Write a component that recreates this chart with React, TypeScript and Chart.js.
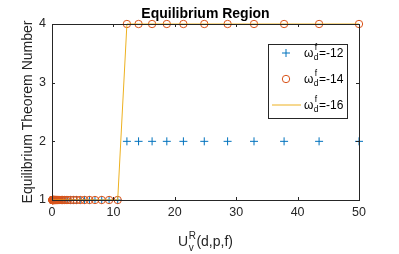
import React, { useEffect, useRef } from "react";
import { Chart, registerables } from "chart.js";

Chart.register(...registerables);

const X_VALUES = [
  0.05, 0.06, 0.07, 0.08, 0.09, 0.1, 0.12, 0.14, 0.16, 0.19,
  0.21, 0.25, 0.28, 0.33, 0.37, 0.43, 0.5, 0.57, 0.65, 0.75,
  0.87, 1.0, 1.15, 1.3, 1.5, 1.7, 2.0, 2.3, 2.6, 3.0,
  3.5, 4.0, 4.6, 5.3, 6.1, 7.0, 8.1, 9.3, 10.7,
  12.2, 14.1, 16.3, 18.7, 21.4, 24.8, 28.6, 32.9, 37.8, 43.5, 50,
];
const SERIES_W12 = [
  1, 1, 1, 1, 1, 1, 1, 1, 1, 1,
  1, 1, 1, 1, 1, 1, 1, 1, 1, 1,
  1, 1, 1, 1, 1, 1, 1, 1, 1, 1,
  1, 1, 1, 1, 1, 1, 1, 1, 1,
  2, 2, 2, 2, 2, 2, 2, 2, 2, 2, 2,
];
const SERIES_W14 = [
  1, 1, 1, 1, 1, 1, 1, 1, 1, 1,
  1, 1, 1, 1, 1, 1, 1, 1, 1, 1,
  1, 1, 1, 1, 1, 1, 1, 1, 1, 1,
  1, 1, 1, 1, 1, 1, 1, 1, 1,
  4, 4, 4, 4, 4, 4, 4, 4, 4, 4, 4,
];
const SERIES_W16 = [
  1, 1, 1, 1, 1, 1, 1, 1, 1, 1,
  1, 1, 1, 1, 1, 1, 1, 1, 1, 1,
  1, 1, 1, 1, 1, 1, 1, 1, 1, 1,
  1, 1, 1, 1, 1, 1, 1, 1, 1,
  4, 4, 4, 4, 4, 4, 4, 4, 4, 4, 4,
];
const LEGEND_VALUES = ["-12", "-14", "-16"];
const X_TICKS = [0, 10, 20, 30, 40, 50];
const Y_TICKS = [1, 2, 3, 4];
const TITLE = "Equilibrium Region";
const Y_TITLE = "Equilibrium Theorem Number";

const BLUE = "#0072BD";
const ORANGE = "#D95319";
const YELLOW = "#EDB120";
const AXIS = "#262626";
const FONT = "'Liberation Sans', Arial, Helvetica, sans-serif";

const toPts = (ys: number[]) => X_VALUES.map((x, i) => ({ x, y: ys[i] }));

const decorPlugin = {
  id: "decor",
  afterDatasetsDraw(chart: any) {
    const ctx = chart.ctx as CanvasRenderingContext2D;
    const { left, right, top, bottom } = chart.chartArea;
    const xs = chart.scales.x;
    const ys = chart.scales.y;
    ctx.save();
    // box
    ctx.strokeStyle = AXIS;
    ctx.lineWidth = 1;
    ctx.strokeRect(Math.round(left) + 0.5, Math.round(top) + 0.5, Math.round(right - left), Math.round(bottom - top));
    // ticks
    const tl = 3;
    ctx.beginPath();
    X_TICKS.forEach((t) => {
      const px = Math.round(xs.getPixelForValue(t)) + 0.5;
      ctx.moveTo(px, bottom);
      ctx.lineTo(px, bottom - tl);
      ctx.moveTo(px, top);
      ctx.lineTo(px, top + tl);
    });
    Y_TICKS.forEach((t) => {
      const py = Math.round(ys.getPixelForValue(t)) + 0.5;
      ctx.moveTo(left, py);
      ctx.lineTo(left + tl, py);
      ctx.moveTo(right, py);
      ctx.lineTo(right - tl, py);
    });
    ctx.stroke();

    // title
    const cx = (left + right) / 2;
    ctx.fillStyle = "#000";
    ctx.font = `bold 14px ${FONT}`;
    ctx.textAlign = "center";
    ctx.textBaseline = "alphabetic";
    ctx.fillText(TITLE, cx, 18);

    // y title
    ctx.save();
    ctx.fillStyle = AXIS;
    ctx.font = `14px ${FONT}`;
    ctx.translate(32, (top + bottom) / 2);
    ctx.rotate(-Math.PI / 2);
    ctx.fillText(Y_TITLE, 0, 0);
    ctx.restore();

    // x title: U_v^R(d,p,f)
    ctx.fillStyle = AXIS;
    ctx.textAlign = "left";
    const mainF = `14px ${FONT}`;
    const smallF = `10px ${FONT}`;
    ctx.font = mainF;
    const wU = ctx.measureText("U").width;
    const wRest = ctx.measureText("(d,p,f)").width;
    ctx.font = smallF;
    const wSub = Math.max(ctx.measureText("R").width, ctx.measureText("v").width);
    const total = wU + wSub + 1 + wRest;
    const x0 = cx - total / 2;
    const base = 246;
    ctx.font = mainF;
    ctx.fillText("U", x0, base);
    ctx.font = smallF;
    ctx.fillText("R", x0 + wU + 0.5, base - 7);
    ctx.fillText("v", x0 + wU + 0.5, base + 5);
    ctx.font = mainF;
    ctx.fillText("(d,p,f)", x0 + wU + wSub + 1, base);

    // legend
    const lx = 268, ly = 44, lw = 79, lh = 74;
    ctx.fillStyle = "#fff";
    ctx.fillRect(lx, ly, lw, lh);
    ctx.strokeStyle = AXIS;
    ctx.lineWidth = 1;
    ctx.strokeRect(lx + 0.5, ly + 0.5, lw, lh);
    LEGEND_VALUES.forEach((v, i) => {
      const yc = 53 + 26 * i;
      ctx.lineWidth = 1;
      if (i === 0) {
        ctx.strokeStyle = BLUE;
        ctx.beginPath();
        ctx.moveTo(282, yc);
        ctx.lineTo(290, yc);
        ctx.moveTo(286, yc - 4);
        ctx.lineTo(286, yc + 4);
        ctx.stroke();
      } else if (i === 1) {
        ctx.strokeStyle = ORANGE;
        ctx.beginPath();
        ctx.arc(286, yc, 3.7, 0, Math.PI * 2);
        ctx.stroke();
      } else {
        ctx.strokeStyle = YELLOW;
        ctx.beginPath();
        ctx.moveTo(272, yc);
        ctx.lineTo(301, yc);
        ctx.stroke();
      }
      ctx.fillStyle = "#000";
      ctx.textAlign = "left";
      const tb = yc + 4;
      let tx = 304;
      ctx.font = `12px ${FONT}`;
      ctx.fillText("ω", tx, tb);
      tx += ctx.measureText("ω").width + 0.5;
      ctx.font = `8.5px ${FONT}`;
      ctx.fillText("f", tx + 1, tb - 7);
      ctx.fillText("d", tx, tb + 3);
      tx += ctx.measureText("d").width + 0.5;
      ctx.font = `12px ${FONT}`;
      ctx.fillText("=" + v, tx, tb);
    });
    ctx.restore();
  },
};

export default function App() {
  const ref = useRef<HTMLCanvasElement | null>(null);
  useEffect(() => {
    if (!ref.current) return;
    const chart = new Chart(ref.current, {
      type: "scatter",
      data: {
        datasets: [
          {
            label: "w-12",
            data: toPts(SERIES_W12),
            pointStyle: "cross",
            pointRadius: 4,
            pointBorderWidth: 1,
            borderColor: BLUE,
            backgroundColor: BLUE,
            showLine: false,
            clip: false as any,
            order: 2,
          },
          {
            label: "w-14",
            data: toPts(SERIES_W14),
            pointStyle: "circle",
            pointRadius: 3.7,
            pointBorderWidth: 1,
            borderColor: ORANGE,
            backgroundColor: "rgba(0,0,0,0)",
            showLine: false,
            clip: false as any,
            order: 1,
          },
          {
            label: "w-16",
            data: toPts(SERIES_W16),
            pointRadius: 0,
            borderColor: YELLOW,
            borderWidth: 1,
            showLine: true,
            clip: false as any,
            order: 0,
          },
        ],
      },
      options: {
        responsive: false,
        animation: false,
        devicePixelRatio: 1,
        layout: { padding: { left: 0, right: 40, top: 24, bottom: 0 } },
        plugins: {
          legend: { display: false },
          title: { display: false },
          tooltip: { enabled: false },
        },
        scales: {
          x: {
            type: "linear",
            min: 0,
            max: 50,
            afterFit: (s: any) => { s.height = 54; },
            afterBuildTicks: (s: any) => { s.ticks = X_TICKS.map((v) => ({ value: v })); },
            grid: { display: false, drawTicks: false },
            border: { display: false },
            ticks: { color: AXIS, font: { family: FONT, size: 12.5 }, padding: 5, maxRotation: 0 },
          },
          y: {
            type: "linear",
            min: 1,
            max: 4,
            afterFit: (s: any) => { s.width = 52; },
            afterBuildTicks: (s: any) => { s.ticks = Y_TICKS.map((v) => ({ value: v })); },
            grid: { display: false, drawTicks: false },
            border: { display: false },
            ticks: { color: AXIS, font: { family: FONT, size: 12.5 }, padding: 6 },
          },
        },
      },
      plugins: [decorPlugin],
    });
    return () => chart.destroy();
  }, []);
  return (
    <div style={{ position: "fixed", left: 0, top: 0, width: 399, height: 254, background: "#fff" }}>
      <canvas ref={ref} width={399} height={254} style={{ display: "block" }} />
    </div>
  );
}
